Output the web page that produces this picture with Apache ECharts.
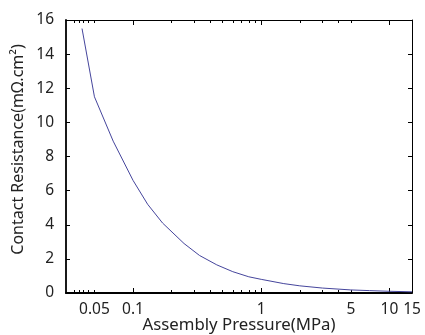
<!DOCTYPE html>
<html><head><meta charset="utf-8">
<script src="https://cdn.jsdelivr.net/npm/echarts@6/dist/echarts.min.js"></script>
<style>html,body{margin:0;padding:0;background:#fff}#c{width:425px;height:335px}</style>
</head><body><div id="c"></div>
<script>
const pressure = [0.04, 0.05, 0.07, 0.1, 0.13, 0.17, 0.25, 0.33, 0.45, 0.6, 0.8, 1, 1.5, 2, 3, 5, 7, 10, 15];
const resistance = [15.5, 11.5, 8.9, 6.6, 5.2, 4.1, 2.9, 2.2, 1.65, 1.25, 0.95, 0.8, 0.55, 0.42, 0.29, 0.18, 0.14, 0.1, 0.07];
const xLabelValues = [0.05, 0.1, 1, 5, 10, 15];
const xMajorTicks = [0.1, 1, 10];
const xMinorTicks = [0.0345, 0.0378, 0.041, 0.045, 0.05, 0.2, 0.3, 0.4, 0.5, 0.6, 0.7, 0.8, 0.9, 2, 3, 4, 5];
const yTickValues = [0, 2, 4, 6, 8, 10, 12, 14, 16];

const font = 'Noto Sans';
const txt = '#222';
function xAx(pos, showLabel, ticks, len, lineW, showLine) {
  return {
    type: 'log', position: pos, min: 0.03, max: 15, logBase: 10,
    axisLine: {show: showLine, lineStyle: {color: '#000', width: lineW}},
    axisTick: {show: true, inside: true, length: len, customValues: ticks, lineStyle: {color: '#000', width: 1}},
    axisLabel: {show: showLabel, customValues: xLabelValues, color: txt, fontFamily: font, fontSize: 15.5, margin: 9,
      formatter: v => String(v)},
    splitLine: {show: false}, minorTick: {show: false}, minorSplitLine: {show: false}
  };
}
const chart = echarts.init(document.getElementById('c'));
chart.setOption({
  animation: false,
  grid: {left: 66, right: 13, top: 20, bottom: 42, containLabel: false, outerBoundsMode: 'none'},
  xAxis: [
    Object.assign(xAx('bottom', true, xMajorTicks, 5, 1.8, true), {
      name: 'Assembly Pressure(MPa)', nameLocation: 'middle', nameGap: 24, nameMoveOverlap: false,
      nameTextStyle: {color: txt, fontFamily: font, fontSize: 16.8}
    }),
    xAx('bottom', false, xMinorTicks, 3, 1, false),
    xAx('top', false, xMajorTicks, 5, 1, true),
    xAx('top', false, xMinorTicks, 3, 1, false)
  ],
  yAxis: [
    {type: 'value', position: 'left', min: 0, max: 16, interval: 2,
     name: 'Contact Resistance(mΩ.cm²)', nameLocation: 'middle', nameGap: 40, nameRotate: 90, nameMoveOverlap: false,
     nameTextStyle: {color: txt, fontFamily: font, fontSize: 16, padding: [0, 0, 0, 14]},
     axisLine: {show: true, lineStyle: {color: '#000', width: 1.8}},
     axisTick: {show: true, inside: true, length: 4, lineStyle: {color: '#000'}},
     axisLabel: {color: txt, fontFamily: font, fontSize: 15.5, margin: 12},
     splitLine: {show: false}},
    {type: 'value', position: 'right', min: 0, max: 16, interval: 2,
     axisLine: {show: true, lineStyle: {color: '#000', width: 1}},
     axisTick: {show: true, inside: true, length: 4, lineStyle: {color: '#000'}},
     axisLabel: {show: false}, splitLine: {show: false}}
  ],
  series: [{
    type: 'line', xAxisIndex: 0, yAxisIndex: 0,
    data: pressure.map((p, i) => [p, resistance[i]]),
    showSymbol: false, smooth: false,
    lineStyle: {color: '#45459c', width: 1}
  }]
});
</script></body></html>
